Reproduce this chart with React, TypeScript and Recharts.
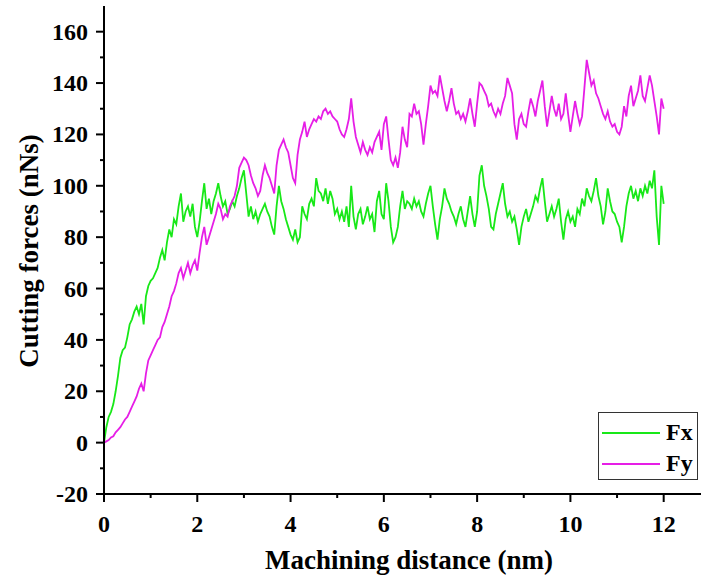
import { Line, LineChart, XAxis, YAxis } from "recharts";

const STEP = 0.05;

// Fx, one value every 0.05 nm (0 .. 12 nm)
const fxValues = [
  0, 6, 10, 12, 15, 20, 26, 33, 36, 37, 41, 46, 48, 51, 53, 50, 54, 46, 57, 61,
  63, 64, 66, 68, 72, 75, 71, 78, 83, 80, 87, 85, 92, 97, 86, 90, 92, 88, 93, 84,
  80, 86, 94, 101, 91, 95, 89, 94, 97, 101, 96, 92, 94, 89, 91, 94, 92, 96, 99, 103,
  106, 97, 88, 92, 87, 90, 86, 89, 91, 93, 90, 88, 84, 81, 92, 100, 94, 91, 87, 84,
  81, 79, 83, 78, 80, 92, 89, 87, 93, 95, 92, 103, 98, 97, 94, 99, 93, 98, 95, 89,
  91, 87, 90, 86, 92, 84, 100, 88, 83, 89, 91, 85, 88, 92, 87, 89, 82, 94, 98, 89,
  87, 101, 94, 84, 78, 80, 84, 92, 98, 91, 94, 93, 91, 95, 92, 94, 90, 88, 93, 97,
  100, 92, 85, 79, 87, 92, 99, 95, 93, 90, 88, 85, 89, 92, 87, 84, 90, 96, 89, 84,
  90, 104, 108, 100, 96, 91, 84, 83, 89, 93, 97, 101, 93, 88, 90, 86, 88, 83, 77, 84,
  88, 91, 86, 89, 92, 96, 94, 99, 103, 94, 86, 89, 92, 88, 91, 95, 86, 79, 87, 90,
  86, 88, 84, 91, 89, 95, 92, 99, 96, 94, 98, 103, 96, 92, 85, 90, 99, 94, 90, 89,
  86, 84, 78, 84, 92, 97, 100, 95, 98, 94, 99, 96, 100, 97, 102, 99, 106, 88, 77, 100,
  93,
];

// Fy, same sampling
const fyValues = [
  0, 0.5, 1, 2, 2.5, 4, 5, 6, 7.5, 9, 10, 12, 14, 16, 18, 21, 23, 20, 27, 32,
  34, 36, 38, 40, 41, 45, 47, 50, 53, 57, 59, 62, 66, 68, 64, 67, 70, 66, 69, 71,
  67, 74, 80, 84, 77, 80, 83, 86, 89, 93, 91, 87, 89, 88, 92, 94, 96, 100, 107, 109,
  111, 110, 108, 104, 101, 99, 96, 98, 104, 108, 105, 103, 100, 97, 108, 114, 116, 118, 115, 113,
  108, 103, 101, 112, 118, 121, 125, 119, 122, 124, 126, 125, 127, 126, 129, 130, 128, 129, 127, 126,
  125, 122, 120, 119, 122, 126, 134, 125, 119, 116, 113, 117, 114, 112, 115, 113, 117, 119, 121, 114,
  124, 127, 118, 110, 108, 111, 107, 113, 123, 118, 115, 128, 127, 132, 128, 129, 124, 116, 124, 131,
  139, 136, 137, 135, 143, 138, 133, 129, 133, 138, 132, 128, 129, 126, 128, 125, 129, 134, 128, 123,
  132, 140, 139, 137, 135, 131, 132, 129, 127, 130, 128, 132, 135, 142, 139, 136, 124, 118, 126, 128,
  124, 123, 129, 134, 131, 127, 133, 137, 141, 131, 123, 129, 135, 130, 127, 132, 126, 128, 136, 128,
  121, 127, 133, 128, 124, 127, 138, 149, 144, 139, 141, 136, 134, 131, 128, 126, 129, 125, 123, 124,
  121, 120, 123, 131, 127, 135, 139, 131, 134, 137, 143, 135, 133, 138, 143, 139, 133, 127, 120, 134,
  130,
];

const xTicks = [0, 1, 2, 3, 4, 5, 6, 7, 8, 9, 10, 11, 12];
const yTicks = [-20, -10, 0, 10, 20, 30, 40, 50, 60, 70, 80, 90, 100, 110, 120, 130, 140, 150, 160];

const data = fxValues.map((v, i) => ({
  d: Math.round(i * STEP * 100) / 100,
  fx: v,
  fy: fyValues[i],
}));

const FONT = "'Liberation Serif', 'Times New Roman', serif";
const GREEN = "#18e818";
const MAGENTA = "#e61ee6";

function XTick({ x, y, payload }: any) {
  const major = payload.value % 2 === 0;
  return (
    <g>
      <line x1={x} x2={x} y1={y} y2={y + (major ? 8 : 4)} stroke="#000" strokeWidth={2} />
      {major && (
        <text x={x} y={y + 38} textAnchor="middle" fontFamily={FONT} fontWeight="bold" fontSize={24} fill="#000">
          {payload.value}
        </text>
      )}
    </g>
  );
}

function YTick({ x, y, payload }: any) {
  const major = payload.value % 20 === 0;
  return (
    <g>
      <line x1={x - (major ? 8 : 4)} x2={x} y1={y} y2={y} stroke="#000" strokeWidth={2} />
      {major && (
        <text x={x - 16} y={y + 8} textAnchor="end" fontFamily={FONT} fontWeight="bold" fontSize={24} fill="#000">
          {payload.value}
        </text>
      )}
    </g>
  );
}

function XTitle() {
  return (
    <text x={409} y={569} textAnchor="middle" fontFamily={FONT} fontWeight="bold" fontSize={27} fill="#000">
      Machining distance (nm)
    </text>
  );
}

function YTitle() {
  return (
    <text
      x={0}
      y={0}
      transform="translate(38, 251) rotate(-90)"
      textAnchor="middle"
      fontFamily={FONT}
      fontWeight="bold"
      fontSize={27}
      fill="#000"
    >
      Cutting forces (nNs)
    </text>
  );
}

function LegendBox() {
  const rows = [
    { name: "Fx", color: GREEN },
    { name: "Fy", color: MAGENTA },
  ];
  return (
    <div
      style={{
        position: "absolute",
        left: 598,
        top: 412,
        width: 100,
        height: 68,
        border: "1px solid #333",
        background: "#fff",
        boxSizing: "border-box",
        padding: "4px 0 0 3px",
      }}
    >
      {rows.map((r) => (
        <div key={r.name} style={{ display: "flex", alignItems: "center", height: 31 }}>
          <div style={{ width: 58, height: 0, borderTop: `2px solid ${r.color}` }} />
          <span
            style={{ marginLeft: 6, fontFamily: FONT, fontWeight: "bold", fontSize: 24, color: "#000", lineHeight: "31px" }}
          >
            {r.name}
          </span>
        </div>
      ))}
    </div>
  );
}

export default function App() {
  return (
    <div style={{ position: "absolute", left: 0, top: 0, width: 702, height: 579, background: "#fff" }}>
      <LineChart width={702} height={579} data={data} margin={{ top: 6, right: 1, bottom: 0, left: 0 }}>
        <XAxis
          dataKey="d"
          type="number"
          domain={[0, 12.8]}
          ticks={xTicks}
          interval={0}
          tickSize={0}
          tickMargin={0}
          tickLine={false}
          tick={<XTick />}
          axisLine={{ stroke: "#000", strokeWidth: 2 }}
          height={85}
          label={<XTitle />}
        />
        <XAxis
          xAxisId="top"
          orientation="top"
          type="number"
          domain={[0, 12.8]}
          tick={false}
          tickLine={false}
          axisLine={{ stroke: "#000", strokeWidth: 2 }}
          height={0}
        />
        <YAxis
          type="number"
          domain={[-20, 170]}
          ticks={yTicks}
          interval={0}
          tickSize={0}
          tickMargin={0}
          tickLine={false}
          tick={<YTick />}
          axisLine={{ stroke: "#000", strokeWidth: 2 }}
          width={104}
          allowDataOverflow
          label={<YTitle />}
        />
        <Line
          dataKey="fx"
          name="Fx"
          type="linear"
          stroke={GREEN}
          strokeWidth={1.8}
          dot={false}
          isAnimationActive={false}
        />
        <Line
          dataKey="fy"
          name="Fy"
          type="linear"
          stroke={MAGENTA}
          strokeWidth={1.8}
          dot={false}
          isAnimationActive={false}
        />
      </LineChart>
      <LegendBox />
    </div>
  );
}
